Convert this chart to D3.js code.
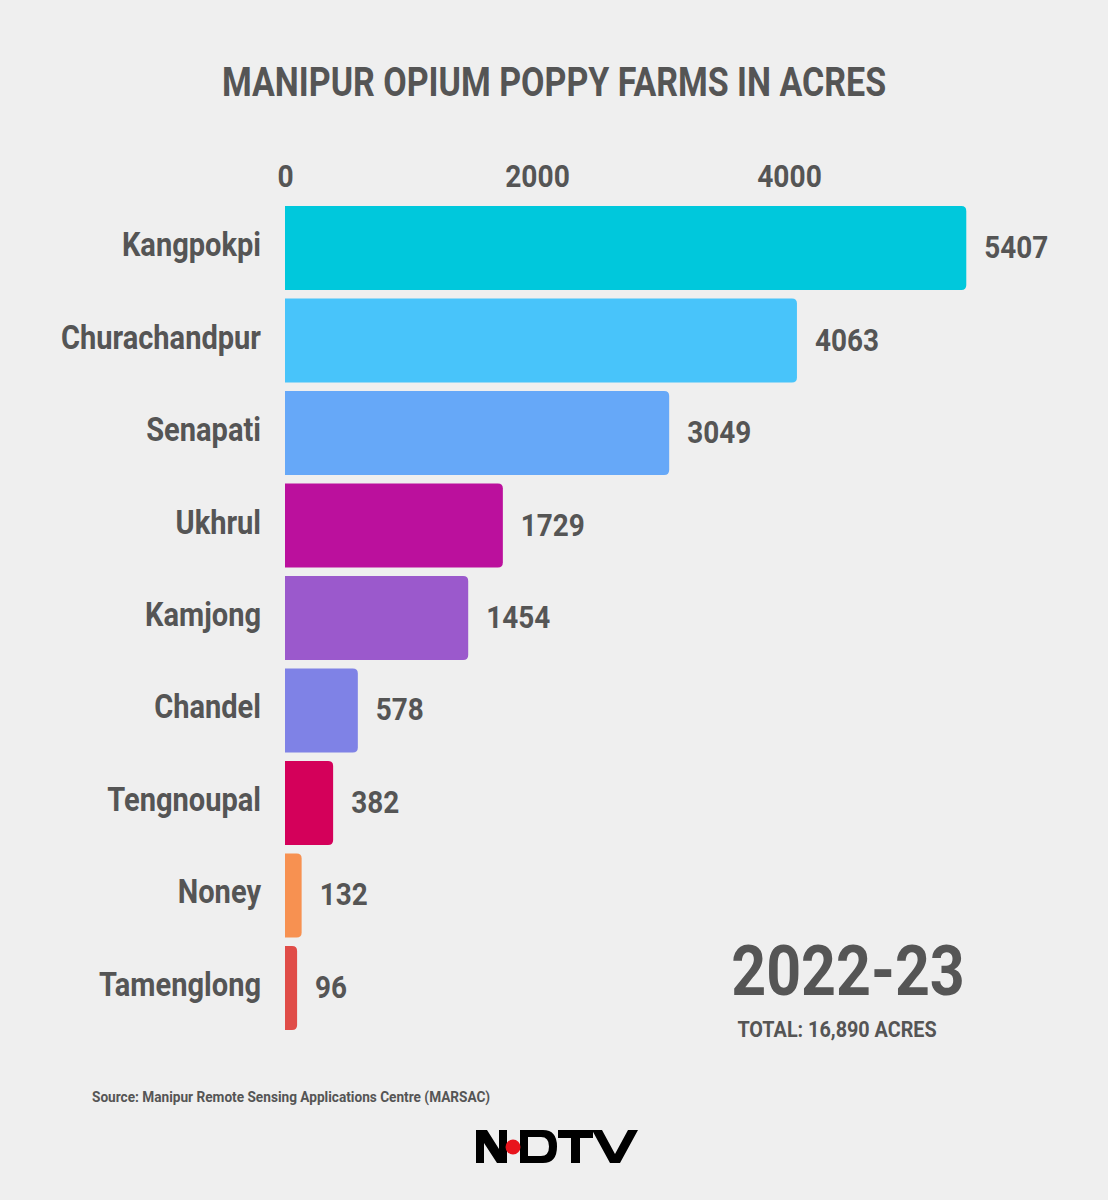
<!DOCTYPE html>
<html>
<head>
<meta charset="utf-8">
<script src="https://cdn.jsdelivr.net/npm/d3@7"></script>
<style>
  html, body { margin: 0; padding: 0; background: #efefef; }
  svg { display: block; }
  text { font-family: Roboto, "Noto Sans", sans-serif; font-weight: 700; }
</style>
</head>
<body>
<svg id="chart" width="1108" height="1200"></svg>
<script>
const categories = ["Kangpokpi", "Churachandpur", "Senapati", "Ukhrul", "Kamjong", "Chandel", "Tengnoupal", "Noney", "Tamenglong"];
const values = [5407, 4063, 3049, 1729, 1454, 578, 382, 132, 96];
const colors = ["#00c8dc", "#48c4fa", "#66a8f8", "#bb109d", "#9b59cc", "#7f82e6", "#d4005a", "#f79151", "#e04c48"];
const tickValues = [0, 2000, 4000];
const title = "MANIPUR OPIUM POPPY FARMS IN ACRES";
const yearLabel = "2022-23";
const totalLabel = "TOTAL: 16,890 ACRES";
const sourceLabel = "Source: Manipur Remote Sensing Applications Centre (MARSAC)";

const svg = d3.select("#chart");
const W = 1108, H = 1200;
const TXT = "#555555";
svg.append("rect").attr("width", W).attr("height", H).attr("fill", "#efefef");

function ctext(sel, x, y, str, size, anchor, sx) {
  return sel.append("text")
    .attr("transform", `translate(${x},${y}) scale(${sx},1)`)
    .attr("text-anchor", anchor || "start")
    .style("font-size", size + "px")
    .style("fill", TXT)
    .text(str);
}

// title
ctext(svg, 554, 96, title, 40, "middle", 0.85);

const x = d3.scaleLinear().domain([0, 6000]).range([285, 1041]);
const y = d3.scaleBand().domain(categories).range([197.5, 1038.5]).padding(0.092);

// top axis
const axis = svg.append("g").attr("transform", "translate(0,187)")
  .call(d3.axisTop(x).tickValues(tickValues).tickSize(0).tickPadding(0).tickFormat(d3.format("d")));
axis.select(".domain").remove();
axis.selectAll("text")
  .attr("y", 0)
  .attr("dy", 0)
  .attr("x", 0)
  .attr("transform", "scale(0.88,1)")
  .style("font-size", "32px")
  .style("font-family", "Roboto, sans-serif")
  .style("font-weight", 700)
  .style("fill", TXT);

// bars with right rounded corners
const r = 5;
function barPath(x0, x1, y0, h) {
  const w = x1 - x0;
  const rr = Math.min(r, w / 2);
  return `M${x0},${y0}H${x1 - rr}Q${x1},${y0} ${x1},${y0 + rr}V${y0 + h - rr}Q${x1},${y0 + h} ${x1 - rr},${y0 + h}H${x0}Z`;
}
const data = categories.map((c, i) => ({ c, v: values[i], col: colors[i] }));
svg.append("g").selectAll("path").data(data).join("path")
  .attr("d", d => barPath(x(0), x(d.v), y(d.c), y.bandwidth()))
  .attr("fill", d => d.col);

// category & value labels
const bh = y.bandwidth();
data.forEach(d => {
  ctext(svg, 261, y(d.c) + bh / 2 + 8, d.c, 33, "end", 0.88);
  ctext(svg, x(d.v) + 18, y(d.c) + bh / 2 + 10, String(d.v), 31, "start", 0.9);
});

// year & total
ctext(svg, 848, 995, yearLabel, 70, "middle", 0.87);
ctext(svg, 837, 1037, totalLabel, 22, "middle", 0.9);

// source
ctext(svg, 92, 1102, sourceLabel, 15, "start", 0.91);

// NDTV logo
const logo = svg.append("g").attr("fill", "#000");
logo.append("path").attr("d", "M476,1130H487L499,1149V1130H507V1163H497L484,1143V1163H476Z");
logo.append("path").attr("fill-rule", "evenodd")
  .attr("d", "M520,1130H543Q557,1130 557,1146.5Q557,1163 543,1163H520Z M528,1137V1156H541Q549,1156 549,1146.5Q549,1137 541,1137Z");
logo.append("path").attr("d", "M558,1130H593V1138H580V1163H571V1138H558Z");
logo.append("path").attr("d", "M592,1130H602L615,1154L628,1130H638L620,1163H610Z");
logo.append("circle").attr("cx", 513).attr("cy", 1147).attr("r", 7.5).attr("fill", "#e8141c");
</script>
</body>
</html>
